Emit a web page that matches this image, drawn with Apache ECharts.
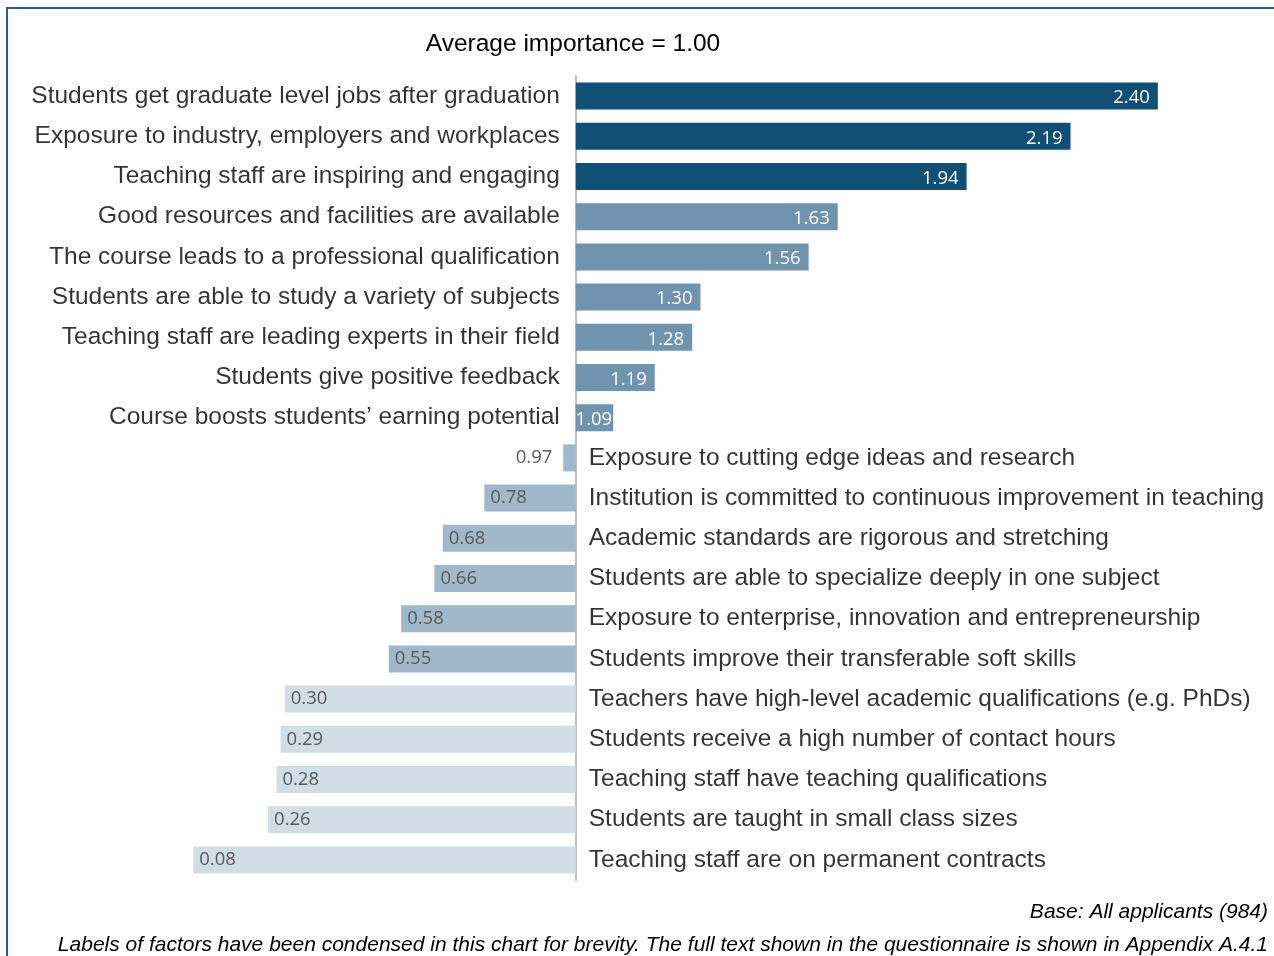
<!DOCTYPE html>
<html>
<head>
<meta charset="utf-8">
<script src="https://cdn.jsdelivr.net/npm/echarts@6/dist/echarts.min.js"></script>
<style>html,body{margin:0;padding:0;background:#fff}#c{width:1274px;height:956px}</style>
</head>
<body>
<div id="c"></div>
<script>
const categories = [
  "Students get graduate level jobs after graduation",
  "Exposure to industry, employers and workplaces",
  "Teaching staff are inspiring and engaging",
  "Good resources and facilities are available",
  "The course leads to a professional qualification",
  "Students are able to study a variety of subjects",
  "Teaching staff are leading experts in their field",
  "Students give positive feedback",
  "Course boosts students’ earning potential",
  "Exposure to cutting edge ideas and research",
  "Institution is committed to continuous improvement in teaching",
  "Academic standards are rigorous and stretching",
  "Students are able to specialize deeply in one subject",
  "Exposure to enterprise, innovation and entrepreneurship",
  "Students improve their transferable soft skills",
  "Teachers have high-level academic qualifications (e.g. PhDs)",
  "Students receive a high number of contact hours",
  "Teaching staff have teaching qualifications",
  "Students are taught in small class sizes",
  "Teaching staff are on permanent contracts"
];
const importance = [2.40, 2.19, 1.94, 1.63, 1.56, 1.30, 1.28, 1.19, 1.09, 0.97, 0.78, 0.68, 0.66, 0.58, 0.55, 0.30, 0.29, 0.28, 0.26, 0.08];
const average = 1.00;
const tierColors = ["#124F76", "#7094AE", "#A0B8C9", "#D0DDE5"];
const titleText = "Average importance = 1.00";
const baseText = "Base: All applicants (984)";
const noteText = "Labels of factors have been condensed in this chart for brevity. The full text shown in the questionnaire is shown in Appendix A.4.1";

function tier(v){ if (v >= 1.9) return 0; if (v >= 1) return 1; if (v >= 0.5) return 2; return 3; }

const barData = importance.map((v, i) => {
  const d = v - average;
  const t = tier(v);
  let label;
  if (d >= 0) {
    label = { position: 'insideRight', distance: d < 0.15 ? 1 : 8, color: '#ffffff', offset: [0, 2] };
  } else if (d > -0.1) {
    label = { position: 'left', distance: 11, color: '#595959' };
  } else {
    label = { position: 'insideLeft', distance: 6, color: '#595959' };
  }
  return { value: d, orig: v, itemStyle: { color: tierColors[t] }, label: label };
});

const nameData = categories.map((c, i) => {
  const pos = importance[i] >= average;
  return {
    value: [0, i],
    name: c,
    label: { position: pos ? 'left' : 'right', distance: pos ? 16 : 13 }
  };
});

const chart = echarts.init(document.getElementById('c'));
chart.setOption({
  animation: false,
  grid: { left: 160, right: 33, top: 76, bottom: 76 },
  xAxis: { type: 'value', min: -1, max: 1.6, show: false },
  yAxis: {
    type: 'category', data: categories, inverse: true,
    axisLine: { show: true, onZero: true, lineStyle: { color: '#BFBFBF', width: 2 } },
    axisTick: { show: false }, axisLabel: { show: false }, splitLine: { show: false }
  },
  series: [
    {
      type: 'bar', data: barData, barWidth: 27,
      label: {
        show: true, fontFamily: 'Open Sans', fontSize: 18.5,
        formatter: p => p.data.orig.toFixed(2)
      },
      z: 2
    },
    {
      type: 'scatter', data: nameData, symbolSize: 0, silent: true,
      label: {
        show: true, fontFamily: '"Liberation Sans", Arial', fontSize: 24.5, color: '#000',
        formatter: p => p.data.name
      },
      z: 3
    }
  ],
  graphic: [
    { type: 'rect', shape: { x: 7, y: 8, width: 1300, height: 1000 }, style: { fill: 'none', stroke: '#2E5E8A', lineWidth: 2 }, silent: true },
    { type: 'text', x: 573, y: 44, style: { text: titleText, font: '24.5px "Liberation Sans"', fill: '#000', textAlign: 'center', textVerticalAlign: 'middle' } },
    { type: 'text', x: 1268, y: 912, style: { text: baseText, font: 'italic 21px "Liberation Sans"', fill: '#000', textAlign: 'right', textVerticalAlign: 'middle' } },
    { type: 'text', x: 1268, y: 945, style: { text: noteText, font: 'italic 21px "Liberation Sans"', fill: '#000', textAlign: 'right', textVerticalAlign: 'middle' } }
  ]
});
</script>
</body>
</html>
